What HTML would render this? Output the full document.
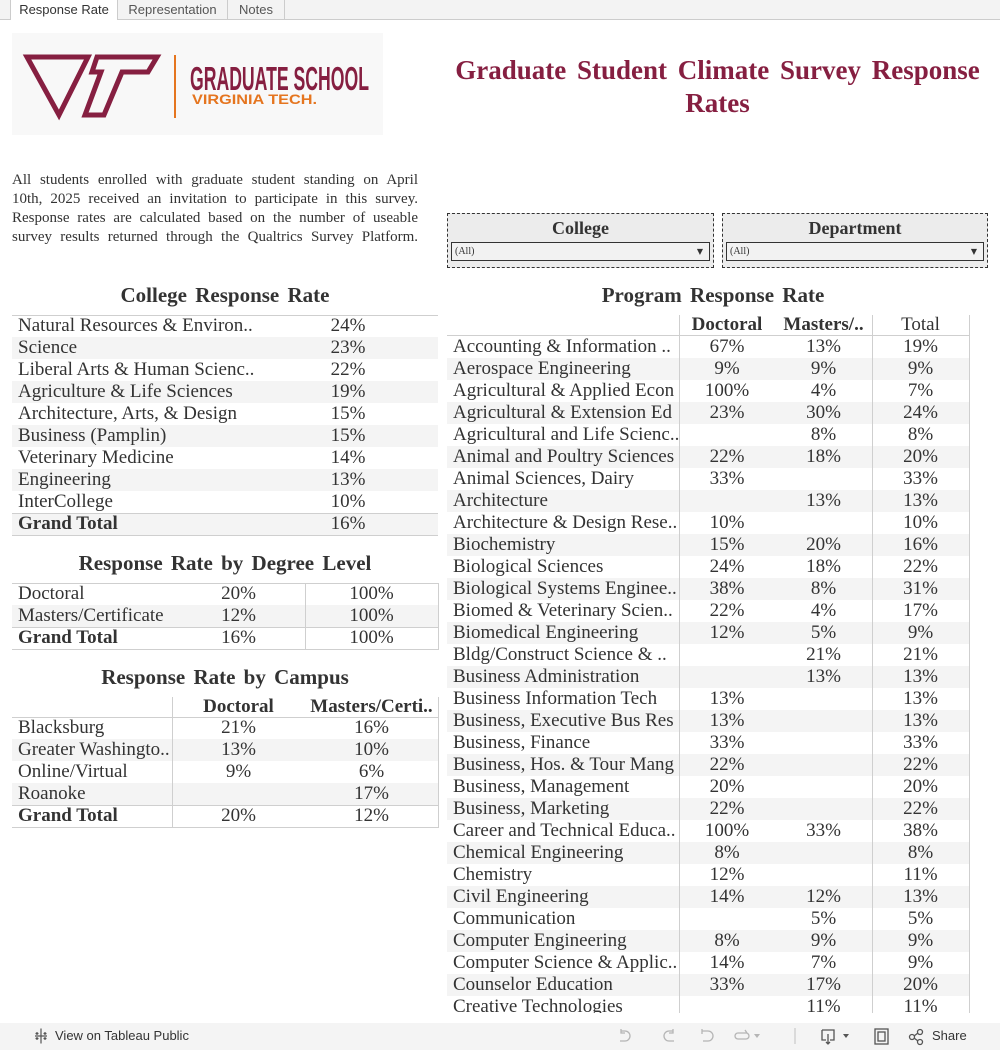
<!DOCTYPE html>
<html><head><meta charset="utf-8">
<style>
*{margin:0;padding:0;box-sizing:border-box}
html,body{width:1000px;height:1050px;overflow:hidden;background:#fff;position:relative}
.a{position:absolute}
.s{font-family:"Liberation Serif",serif;color:#333}
.ss{font-family:"Liberation Sans",sans-serif;color:#333}
.hl{position:absolute;height:1px;background:#cfcfcf}
.vl{position:absolute;width:1px;background:#cfcfcf}
.r{position:absolute;height:22px;line-height:22px;font-size:19px;white-space:nowrap;font-family:"Liberation Serif",serif;color:#333}
.g{background:#f4f4f4}
.r span{position:absolute;top:0}
.lb{left:6px}
.c{text-align:center}
.b{font-weight:bold}
.h{font-size:21px;font-weight:bold;word-spacing:3px;text-align:center;white-space:nowrap}
.tab{position:absolute;top:0;height:20px;line-height:19px;font-size:13px;text-align:center;font-family:"Liberation Sans",sans-serif;color:#333;border-right:1px solid #ccc}
.desc div{height:19px;line-height:19px;font-size:15px;text-align:justify;text-align-last:justify;white-space:nowrap;width:406px}
</style></head><body>

<!-- tab bar -->
<div class="a" style="left:0;top:0;width:1000px;height:20px;background:#f3f3f3;border-bottom:1px solid #cccccc"></div>
<div class="tab" style="left:10px;width:108px;background:#fff;border-left:1px solid #ccc;height:20px">Response Rate</div>
<div class="tab" style="left:118px;width:110px;color:#555">Representation</div>
<div class="tab" style="left:228px;width:57px;color:#555">Notes</div>

<!-- logo -->
<svg class="a" style="left:12px;top:33px" width="371" height="102" viewBox="12 33 371 102">
<rect x="12" y="33" width="371" height="102" fill="#f8f8f8"/>
<g fill="none" stroke="#861F41" stroke-width="5" stroke-linejoin="miter">
<polygon points="27,57 88,57 59,115"/>
<polygon points="97,57 157,57 148,72 122,72 104,115 85,115 101,72 92,72"/>
</g>
<rect x="174" y="55" width="2" height="63" fill="#E5751F"/>
<text x="190" y="90" font-family="Liberation Sans Narrow, Liberation Sans, sans-serif" font-weight="bold" font-size="33" fill="#861F41" textLength="179" lengthAdjust="spacingAndGlyphs">GRADUATE SCHOOL</text>
<text x="192" y="104" font-family="Liberation Sans, sans-serif" font-weight="bold" font-size="14" fill="#E5751F" textLength="125" lengthAdjust="spacingAndGlyphs">VIRGINIA TECH.</text>
</svg>

<!-- title -->
<div class="a" style="left:440px;top:54px;width:555px;text-align:center;font-family:'Liberation Serif',serif;font-weight:bold;font-size:27px;line-height:33px;color:#861F41;word-spacing:4px">Graduate Student Climate Survey Response<br>Rates</div>

<!-- description -->
<div class="a s desc" style="left:12px;top:171px">
<div>All students enrolled with graduate student standing on April</div>
<div>10th, 2025 received an invitation to participate in this survey.</div>
<div>Response rates are calculated based on the number of useable</div>
<div>survey results returned through the Qualtrics Survey Platform.</div>
</div>

<!-- filters -->
<div class="a" style="left:447px;top:213px;width:267px;height:55px;border:1px dashed #333;background:#ececec"></div>
<div class="a s b" style="left:447px;top:217px;width:267px;text-align:center;font-size:18px;line-height:22px">College</div>
<div class="a s" style="left:451px;top:242px;width:259px;height:19px;border:1px solid #333;background:#f2f2f2;font-size:10px;line-height:17px;padding-left:3px">(All)<span style="position:absolute;right:6px;top:0;font-size:8px;font-family:'DejaVu Sans',sans-serif">▼</span></div>

<div class="a" style="left:722px;top:213px;width:266px;height:55px;border:1px dashed #333;background:#ececec"></div>
<div class="a s b" style="left:722px;top:217px;width:266px;text-align:center;font-size:18px;line-height:22px">Department</div>
<div class="a s" style="left:726px;top:242px;width:258px;height:19px;border:1px solid #333;background:#f2f2f2;font-size:10px;line-height:17px;padding-left:3px">(All)<span style="position:absolute;right:6px;top:0;font-size:8px;font-family:'DejaVu Sans',sans-serif">▼</span></div>

<!-- College Response Rate -->
<div class="a s h" style="left:12px;top:283px;width:426px;line-height:24px">College Response Rate</div>
<div class="r" style="left:12px;top:315px;width:426px"><span class="lb">Natural Resources &amp; Environ..</span><span class="c" style="left:286px;width:100px">24%</span></div>
<div class="r g" style="left:12px;top:337px;width:426px"><span class="lb">Science</span><span class="c" style="left:286px;width:100px">23%</span></div>
<div class="r" style="left:12px;top:359px;width:426px"><span class="lb">Liberal Arts &amp; Human Scienc..</span><span class="c" style="left:286px;width:100px">22%</span></div>
<div class="r g" style="left:12px;top:381px;width:426px"><span class="lb">Agriculture &amp; Life Sciences</span><span class="c" style="left:286px;width:100px">19%</span></div>
<div class="r" style="left:12px;top:403px;width:426px"><span class="lb">Architecture, Arts, &amp; Design</span><span class="c" style="left:286px;width:100px">15%</span></div>
<div class="r g" style="left:12px;top:425px;width:426px"><span class="lb">Business (Pamplin)</span><span class="c" style="left:286px;width:100px">15%</span></div>
<div class="r" style="left:12px;top:447px;width:426px"><span class="lb">Veterinary Medicine</span><span class="c" style="left:286px;width:100px">14%</span></div>
<div class="r g" style="left:12px;top:469px;width:426px"><span class="lb">Engineering</span><span class="c" style="left:286px;width:100px">13%</span></div>
<div class="r" style="left:12px;top:491px;width:426px"><span class="lb">InterCollege</span><span class="c" style="left:286px;width:100px">10%</span></div>
<div class="r g" style="left:12px;top:513px;width:426px"><span class="lb b">Grand Total</span><span class="c" style="left:286px;width:100px">16%</span></div>
<div class="hl" style="left:12px;top:315px;width:426px"></div>
<div class="hl" style="left:12px;top:513px;width:426px"></div>
<div class="hl" style="left:12px;top:535px;width:426px"></div>

<!-- Degree Level -->
<div class="a s h" style="left:12px;top:551px;width:426px;line-height:24px">Response Rate by Degree Level</div>
<div class="r" style="left:12px;top:583px;width:426px"><span class="lb">Doctoral</span><span class="c" style="left:160px;width:133px">20%</span><span class="c" style="left:293px;width:133px">100%</span></div>
<div class="r g" style="left:12px;top:605px;width:426px"><span class="lb">Masters/Certificate</span><span class="c" style="left:160px;width:133px">12%</span><span class="c" style="left:293px;width:133px">100%</span></div>
<div class="r" style="left:12px;top:627px;width:426px"><span class="lb b">Grand Total</span><span class="c" style="left:160px;width:133px">16%</span><span class="c" style="left:293px;width:133px">100%</span></div>
<div class="hl" style="left:12px;top:583px;width:427px"></div>
<div class="hl" style="left:12px;top:627px;width:427px"></div>
<div class="hl" style="left:12px;top:649px;width:427px"></div>
<div class="vl" style="left:305px;top:583px;height:67px"></div>
<div class="vl" style="left:438px;top:583px;height:67px"></div>

<!-- Campus -->
<div class="a s h" style="left:12px;top:665px;width:426px;line-height:24px">Response Rate by Campus</div>
<div class="r" style="left:12px;top:696px;width:426px;height:21px;line-height:21px"><span class="c b" style="left:160px;width:133px">Doctoral</span><span class="c b" style="left:293px;width:133px">Masters/Certi..</span></div>
<div class="r" style="left:12px;top:717px;width:426px"><span class="lb">Blacksburg</span><span class="c" style="left:160px;width:133px">21%</span><span class="c" style="left:293px;width:133px">16%</span></div>
<div class="r g" style="left:12px;top:739px;width:426px"><span class="lb">Greater Washingto..</span><span class="c" style="left:160px;width:133px">13%</span><span class="c" style="left:293px;width:133px">10%</span></div>
<div class="r" style="left:12px;top:761px;width:426px"><span class="lb">Online/Virtual</span><span class="c" style="left:160px;width:133px">9%</span><span class="c" style="left:293px;width:133px">6%</span></div>
<div class="r g" style="left:12px;top:783px;width:426px"><span class="lb">Roanoke</span><span class="c" style="left:293px;width:133px">17%</span></div>
<div class="r" style="left:12px;top:805px;width:426px"><span class="lb b">Grand Total</span><span class="c" style="left:160px;width:133px">20%</span><span class="c" style="left:293px;width:133px">12%</span></div>
<div class="hl" style="left:12px;top:717px;width:427px"></div>
<div class="hl" style="left:12px;top:805px;width:427px"></div>
<div class="hl" style="left:12px;top:827px;width:427px"></div>
<div class="vl" style="left:172px;top:697px;height:131px"></div>
<div class="vl" style="left:438px;top:697px;height:131px"></div>

<!-- Program Response Rate -->
<div class="a s h" style="left:447px;top:283px;width:532px;line-height:24px">Program Response Rate</div>
<div class="r" style="left:447px;top:314px;width:522px;height:21px;line-height:21px"><span class="c b" style="left:232px;width:96px">Doctoral</span><span class="c b" style="left:328px;width:97px">Masters/..</span><span class="c" style="left:425px;width:97px">Total</span></div>
<div class="a" style="left:447px;top:336px;width:523px;height:677px;overflow:hidden">
<div class="r" style="left:0;top:0;width:522px"><span class="lb">Accounting &amp; Information ..</span><span class="c" style="left:232px;width:96px">67%</span><span class="c" style="left:328px;width:97px">13%</span><span class="c" style="left:425px;width:97px">19%</span></div>
<div class="r g" style="left:0;top:22px;width:522px"><span class="lb">Aerospace Engineering</span><span class="c" style="left:232px;width:96px">9%</span><span class="c" style="left:328px;width:97px">9%</span><span class="c" style="left:425px;width:97px">9%</span></div>
<div class="r" style="left:0;top:44px;width:522px"><span class="lb">Agricultural &amp; Applied Econ</span><span class="c" style="left:232px;width:96px">100%</span><span class="c" style="left:328px;width:97px">4%</span><span class="c" style="left:425px;width:97px">7%</span></div>
<div class="r g" style="left:0;top:66px;width:522px"><span class="lb">Agricultural &amp; Extension Ed</span><span class="c" style="left:232px;width:96px">23%</span><span class="c" style="left:328px;width:97px">30%</span><span class="c" style="left:425px;width:97px">24%</span></div>
<div class="r" style="left:0;top:88px;width:522px"><span class="lb">Agricultural and Life Scienc..</span><span class="c" style="left:328px;width:97px">8%</span><span class="c" style="left:425px;width:97px">8%</span></div>
<div class="r g" style="left:0;top:110px;width:522px"><span class="lb">Animal and Poultry Sciences</span><span class="c" style="left:232px;width:96px">22%</span><span class="c" style="left:328px;width:97px">18%</span><span class="c" style="left:425px;width:97px">20%</span></div>
<div class="r" style="left:0;top:132px;width:522px"><span class="lb">Animal Sciences, Dairy</span><span class="c" style="left:232px;width:96px">33%</span><span class="c" style="left:425px;width:97px">33%</span></div>
<div class="r g" style="left:0;top:154px;width:522px"><span class="lb">Architecture</span><span class="c" style="left:328px;width:97px">13%</span><span class="c" style="left:425px;width:97px">13%</span></div>
<div class="r" style="left:0;top:176px;width:522px"><span class="lb">Architecture &amp; Design Rese..</span><span class="c" style="left:232px;width:96px">10%</span><span class="c" style="left:425px;width:97px">10%</span></div>
<div class="r g" style="left:0;top:198px;width:522px"><span class="lb">Biochemistry</span><span class="c" style="left:232px;width:96px">15%</span><span class="c" style="left:328px;width:97px">20%</span><span class="c" style="left:425px;width:97px">16%</span></div>
<div class="r" style="left:0;top:220px;width:522px"><span class="lb">Biological Sciences</span><span class="c" style="left:232px;width:96px">24%</span><span class="c" style="left:328px;width:97px">18%</span><span class="c" style="left:425px;width:97px">22%</span></div>
<div class="r g" style="left:0;top:242px;width:522px"><span class="lb">Biological Systems Enginee..</span><span class="c" style="left:232px;width:96px">38%</span><span class="c" style="left:328px;width:97px">8%</span><span class="c" style="left:425px;width:97px">31%</span></div>
<div class="r" style="left:0;top:264px;width:522px"><span class="lb">Biomed &amp; Veterinary Scien..</span><span class="c" style="left:232px;width:96px">22%</span><span class="c" style="left:328px;width:97px">4%</span><span class="c" style="left:425px;width:97px">17%</span></div>
<div class="r g" style="left:0;top:286px;width:522px"><span class="lb">Biomedical Engineering</span><span class="c" style="left:232px;width:96px">12%</span><span class="c" style="left:328px;width:97px">5%</span><span class="c" style="left:425px;width:97px">9%</span></div>
<div class="r" style="left:0;top:308px;width:522px"><span class="lb">Bldg/Construct Science &amp; ..</span><span class="c" style="left:328px;width:97px">21%</span><span class="c" style="left:425px;width:97px">21%</span></div>
<div class="r g" style="left:0;top:330px;width:522px"><span class="lb">Business Administration</span><span class="c" style="left:328px;width:97px">13%</span><span class="c" style="left:425px;width:97px">13%</span></div>
<div class="r" style="left:0;top:352px;width:522px"><span class="lb">Business Information Tech</span><span class="c" style="left:232px;width:96px">13%</span><span class="c" style="left:425px;width:97px">13%</span></div>
<div class="r g" style="left:0;top:374px;width:522px"><span class="lb">Business, Executive Bus Res</span><span class="c" style="left:232px;width:96px">13%</span><span class="c" style="left:425px;width:97px">13%</span></div>
<div class="r" style="left:0;top:396px;width:522px"><span class="lb">Business, Finance</span><span class="c" style="left:232px;width:96px">33%</span><span class="c" style="left:425px;width:97px">33%</span></div>
<div class="r g" style="left:0;top:418px;width:522px"><span class="lb">Business, Hos. &amp; Tour Mang</span><span class="c" style="left:232px;width:96px">22%</span><span class="c" style="left:425px;width:97px">22%</span></div>
<div class="r" style="left:0;top:440px;width:522px"><span class="lb">Business, Management</span><span class="c" style="left:232px;width:96px">20%</span><span class="c" style="left:425px;width:97px">20%</span></div>
<div class="r g" style="left:0;top:462px;width:522px"><span class="lb">Business, Marketing</span><span class="c" style="left:232px;width:96px">22%</span><span class="c" style="left:425px;width:97px">22%</span></div>
<div class="r" style="left:0;top:484px;width:522px"><span class="lb">Career and Technical Educa..</span><span class="c" style="left:232px;width:96px">100%</span><span class="c" style="left:328px;width:97px">33%</span><span class="c" style="left:425px;width:97px">38%</span></div>
<div class="r g" style="left:0;top:506px;width:522px"><span class="lb">Chemical Engineering</span><span class="c" style="left:232px;width:96px">8%</span><span class="c" style="left:425px;width:97px">8%</span></div>
<div class="r" style="left:0;top:528px;width:522px"><span class="lb">Chemistry</span><span class="c" style="left:232px;width:96px">12%</span><span class="c" style="left:425px;width:97px">11%</span></div>
<div class="r g" style="left:0;top:550px;width:522px"><span class="lb">Civil Engineering</span><span class="c" style="left:232px;width:96px">14%</span><span class="c" style="left:328px;width:97px">12%</span><span class="c" style="left:425px;width:97px">13%</span></div>
<div class="r" style="left:0;top:572px;width:522px"><span class="lb">Communication</span><span class="c" style="left:328px;width:97px">5%</span><span class="c" style="left:425px;width:97px">5%</span></div>
<div class="r g" style="left:0;top:594px;width:522px"><span class="lb">Computer Engineering</span><span class="c" style="left:232px;width:96px">8%</span><span class="c" style="left:328px;width:97px">9%</span><span class="c" style="left:425px;width:97px">9%</span></div>
<div class="r" style="left:0;top:616px;width:522px"><span class="lb">Computer Science &amp; Applic..</span><span class="c" style="left:232px;width:96px">14%</span><span class="c" style="left:328px;width:97px">7%</span><span class="c" style="left:425px;width:97px">9%</span></div>
<div class="r g" style="left:0;top:638px;width:522px"><span class="lb">Counselor Education</span><span class="c" style="left:232px;width:96px">33%</span><span class="c" style="left:328px;width:97px">17%</span><span class="c" style="left:425px;width:97px">20%</span></div>
<div class="r" style="left:0;top:660px;width:522px"><span class="lb">Creative Technologies</span><span class="c" style="left:328px;width:97px">11%</span><span class="c" style="left:425px;width:97px">11%</span></div>
</div>
<div class="hl" style="left:447px;top:335px;width:523px"></div>
<div class="vl" style="left:679px;top:315px;height:698px"></div>
<div class="vl" style="left:872px;top:315px;height:698px"></div>
<div class="vl" style="left:969px;top:315px;height:698px"></div>

<!-- bottom toolbar -->
<div class="a" style="left:0;top:1023px;width:1000px;height:27px;background:#f4f4f4"></div>
<svg class="a" style="left:33px;top:1028px" width="16" height="16" viewBox="0 0 16 16" stroke="#555" stroke-width="1.2" fill="none">
<path d="M8 2v12M2 8h12M4 4v3M2.5 5.5h3M12 4v3M10.5 5.5h3M4 9v3M2.5 10.5h3M12 9v3M10.5 10.5h3M8 0.5v2M8 13.5v2"/>
</svg>
<div class="a ss" style="left:55px;top:1028px;font-size:13px;line-height:16px;color:#333">View on Tableau Public</div>
<svg class="a" style="left:610px;top:1024px" width="390" height="26" viewBox="610 1024 390 26" fill="none" stroke-width="1.3">
<g stroke="#b5b5b5">
<path d="M621 1031h4a5 5 0 0 1 0 10h-5M621 1029v4h4" />
<path d="M673 1031h-4a5 5 0 0 0 0 10h5M673 1029v4h-4"/>
<path d="M702 1029v5M702 1031h6a5 5 0 0 1 0 10h-5"/>
<path d="M738 1033h8a3 3 0 0 1 0 6h-8a3 3 0 0 1 0-6M745 1030l2 3"/>
</g>
<path d="M754 1034h6l-3 4z" fill="#b5b5b5"/>
<path d="M795 1028v16" stroke="#ccc"/>
<g stroke="#555">
<path d="M822 1030h12v10h-4M826 1040h-4v-10M828 1034v10M826 1042l2 2 2-2"/>
<rect x="875" y="1029" width="13" height="15"/>
<rect x="878" y="1032" width="7" height="9"/>
<circle cx="912" cy="1037" r="2.5"/><circle cx="920" cy="1032" r="2.5"/><circle cx="920" cy="1042" r="2.5"/>
<path d="M914 1036l4-3M914 1038l4 3"/>
</g>
<path d="M843 1034h6l-3 4z" fill="#555"/>
</svg>
<div class="a ss" style="left:932px;top:1028px;font-size:13px;line-height:16px;color:#333">Share</div>

</body></html>
